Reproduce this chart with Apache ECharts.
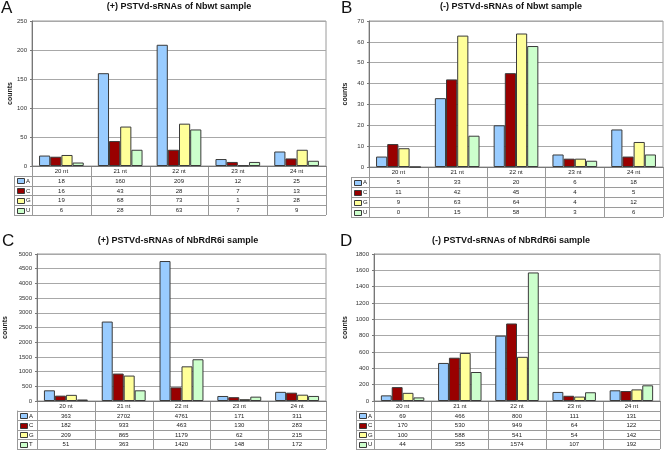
<!DOCTYPE html>
<html><head><meta charset="utf-8">
<script src="https://cdn.jsdelivr.net/npm/echarts@6/dist/echarts.min.js"></script>
<style>html,body{margin:0;padding:0;background:#fff}#c{width:664px;height:451px}</style>
</head><body><div id="c"></div>
<script>
const categories = ['20 nt','21 nt','22 nt','23 nt','24 nt'];
const seriesNames = ['A','C','G','U'];
const seriesNamesC = ['A','C','G','T'];
const panelTitles = ['(+) PSTVd-sRNAs of Nbwt sample','(-) PSTVd-sRNAs of Nbwt sample','(+) PSTVd-sRNAs of NbRdR6i sample','(-) PSTVd-sRNAs of NbRdR6i sample'];
const panelLetters = ['A','B','C','D'];
const yMax = [250, 70, 5000, 1800];
const yInterval = [50, 10, 500, 200];

const panelA_A = [18,160,209,12,25];
const panelA_C = [16,43,28,7,13];
const panelA_G = [19,68,73,1,28];
const panelA_U = [6,28,63,7,9];

const panelB_A = [5,33,20,6,18];
const panelB_C = [11,42,45,4,5];
const panelB_G = [9,63,64,4,12];
const panelB_U = [0,15,58,3,6];

const panelC_A = [363,2702,4761,171,311];
const panelC_C = [182,933,463,130,283];
const panelC_G = [209,865,1179,62,215];
const panelC_T = [51,363,1420,148,172];

const panelD_A = [69,466,800,111,131];
const panelD_C = [170,530,949,64,122];
const panelD_G = [100,588,541,54,142];
const panelD_U = [44,355,1574,107,192];

const panelData = [
  [panelA_A,panelA_C,panelA_G,panelA_U],
  [panelB_A,panelB_C,panelB_G,panelB_U],
  [panelC_A,panelC_C,panelC_G,panelC_T],
  [panelD_A,panelD_C,panelD_G,panelD_U]
];
const panelSeriesNames = [seriesNames, seriesNames, seriesNamesC, seriesNames];

const colors = ['#99CCFF','#990000','#FFFF99','#CCFFCC'];
const layout = [
  {l:32, t:21, r:326, b:166, tl:14, tb:215, title:[179,7], letter:[1,0], gap:16},
  {l:369, t:21, r:663, b:167, tl:351, tb:217, title:[511,7], letter:[341,0], gap:20},
  {l:37, t:254, r:326, b:401, tl:17, tb:449, title:[178,241], letter:[2,233], gap:28},
  {l:374, t:254, r:660, b:401, tl:356, tb:449, title:[511,241], letter:[340,233], gap:25}
];
const FONT = 'Liberation Sans, Arial, sans-serif';
const SMALL = 6;

const grids = [], xAxes = [], yAxes = [], series = [], titles = [], graphics = [];
layout.forEach((L, p) => {
  grids.push({left:L.l, top:L.t, width:L.r-L.l, height:L.b-L.t, show:true, borderColor:'#9a9a9a', borderWidth:1, containLabel:false});
  xAxes.push({type:'category', gridIndex:p, data:categories, axisLabel:{show:false}, axisTick:{show:false}, axisLine:{lineStyle:{color:'#777'}}});
  yAxes.push({type:'value', gridIndex:p, min:0, max:yMax[p], interval:yInterval[p],
    name:'counts', nameLocation:'middle', nameGap:L.gap,
    nameTextStyle:{fontFamily:FONT, fontSize:7, fontWeight:'bold', color:'#222'},
    axisLine:{show:true, lineStyle:{color:'#777'}}, axisTick:{show:true, length:2, lineStyle:{color:'#777'}},
    axisLabel:{fontFamily:FONT, fontSize:SMALL, color:'#333', margin:5, formatter:(v)=>String(v)},
    splitLine:{lineStyle:{color:'#a8a8a8', width:1}}});
  panelData[p].forEach((d, s) => {
    series.push({type:'bar', name:panelSeriesNames[p][s], xAxisIndex:p, yAxisIndex:p, data:d,
      barGap:'0%', barCategoryGap:'24%',
      itemStyle:{color:colors[s], borderColor:'#3a3a3a', borderWidth:1}});
  });
  titles.push({text:panelTitles[p], left:L.title[0], top:L.title[1]-5, textAlign:'center',
    textStyle:{fontFamily:FONT, fontSize:9, fontWeight:'bold', color:'#111'}, padding:0});
  titles.push({text:panelLetters[p], left:L.letter[0], top:L.letter[1], padding:0,
    textStyle:{fontFamily:FONT, fontSize:17, fontWeight:'normal', color:'#111'}});

  const rows = 5;
  const rowH = (L.tb - L.b) / rows;
  const colW = (L.r - L.l) / categories.length;
  const lineColor = '#9a9a9a';
  for (let r = 0; r <= rows; r++) {
    const y = Math.round(L.b + r*rowH) + 0.5;
    const x0 = (r === 0) ? L.l : L.tl;
    graphics.push({type:'line', shape:{x1:x0, y1:y, x2:L.r, y2:y}, style:{stroke:lineColor, lineWidth:1}, silent:true});
  }
  const vx = [L.tl, L.l];
  for (let c = 1; c <= categories.length; c++) vx.push(L.l + c*colW);
  vx.forEach((x, i) => {
    const y0 = (i === 0) ? L.b + rowH : L.b;
    const xx = Math.round(x) + 0.5;
    graphics.push({type:'line', shape:{x1:xx, y1:y0, x2:xx, y2:L.tb}, style:{stroke:lineColor, lineWidth:1}, silent:true});
  });
  categories.forEach((c, i) => {
    graphics.push({type:'text', x:L.l + (i+0.5)*colW, y:L.b + rowH/2 + 0.5,
      style:{text:c, fontFamily:FONT, fontSize:SMALL, fill:'#222', align:'center', verticalAlign:'middle'}, silent:true});
  });
  panelData[p].forEach((d, s) => {
    const yc = L.b + (s+1.5)*rowH + 0.5;
    graphics.push({type:'rect', shape:{x:L.tl+3.5, y:Math.round(yc-3)+0.5, width:7, height:5},
      style:{fill:colors[s], stroke:'#3a3a3a', lineWidth:1}, silent:true});
    graphics.push({type:'text', x:L.tl+12, y:yc,
      style:{text:panelSeriesNames[p][s], fontFamily:FONT, fontSize:SMALL, fill:'#222', align:'left', verticalAlign:'middle'}, silent:true});
    d.forEach((v, i) => {
      graphics.push({type:'text', x:L.l + (i+0.5)*colW, y:yc,
        style:{text:String(v), fontFamily:FONT, fontSize:SMALL, fill:'#222', align:'center', verticalAlign:'middle'}, silent:true});
    });
  });
});

const chart = echarts.init(document.getElementById('c'), null, {renderer:'canvas'});
chart.setOption({
  animation:false,
  backgroundColor:'#fff',
  title:titles,
  grid:grids, xAxis:xAxes, yAxis:yAxes, series:series,
  graphic:{elements:graphics}
});
</script></body></html>
